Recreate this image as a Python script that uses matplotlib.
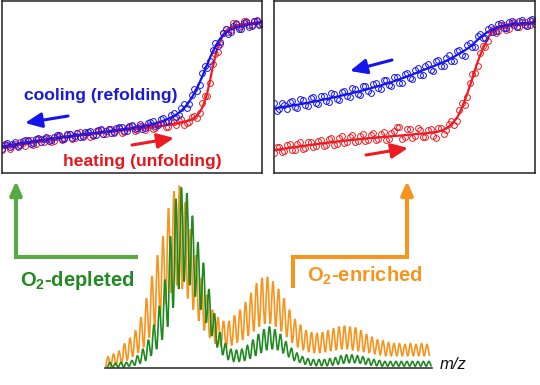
import numpy as np
import matplotlib
matplotlib.use('Agg')
import matplotlib.pyplot as plt
from matplotlib.path import Path
from matplotlib.patches import PathPatch

plt.rcParams['font.family'] = ['Liberation Sans', 'DejaVu Sans']
plt.rcParams['mathtext.fontset'] = 'custom'
plt.rcParams['mathtext.rm'] = 'Liberation Sans'
plt.rcParams['mathtext.bf'] = 'Liberation Sans:bold'
plt.rcParams['mathtext.it'] = 'Liberation Sans:italic'

# ---------------- data: melting curves (normalized signal, % of panel) -------------
temps = [0, 2, 4, 6, 8, 10, 12, 14, 16, 18, 20, 22, 24, 26, 28, 30, 32, 34, 36, 38,
         40, 42, 44, 46, 48, 50, 52, 54, 56, 58, 60, 62, 64, 66, 68, 70, 72, 74, 76,
         78, 80, 82, 84, 86, 88, 90, 92, 94, 96, 98, 100]
temps2 = [1, 3, 5, 7, 9, 11, 13, 15, 17, 19, 21, 23, 25, 27, 29, 31, 33, 35, 37, 39,
          41, 43, 45, 47, 49, 51, 53, 55, 57, 59, 61, 63, 65, 67, 69, 71, 73, 75, 77,
          79, 81, 83, 85, 87, 89, 91, 93, 95, 97, 99]

# left panel (O2-depleted)
heat_L = [13.2, 16.4, 15.8, 14.9, 17.6, 18.5, 16.4, 19.8, 18.1, 20.6, 18.4, 21.5, 20.6,
          22.4, 20.3, 23.6, 22.9, 21.1, 24.2, 25.0, 22.4, 25.6, 24.9, 23.3, 26.4, 27.1,
          24.8, 27.6, 26.9, 25.8, 28.4, 29.0, 27.0, 29.9, 30.5, 28.0, 29.4, 33.0, 35.0,
          44.5, 52.5, 69.0, 74.8, 83.5, 83.0, 87.5, 85.2, 88.3, 86.1, 88.9, 87.0]
heat_L2 = [16.0, 13.9, 16.8, 17.9, 15.6, 18.9, 16.8, 19.6, 20.4, 18.2, 21.1, 19.2, 22.3,
           20.0, 23.0, 21.0, 24.1, 21.6, 24.5, 22.6, 25.4, 23.1, 26.0, 23.8, 26.9, 24.6,
           27.5, 25.2, 28.1, 25.9, 29.0, 26.6, 29.6, 27.8, 31.5, 28.9, 32.4, 31.8, 40.5,
           45.0, 63.5, 70.5, 81.5, 82.2, 87.0, 84.6, 88.1, 86.0, 88.6, 86.5]
cool_L = [14.0, 17.2, 16.8, 15.9, 18.4, 19.3, 17.4, 20.1, 19.6, 18.5, 21.2, 22.0, 19.8,
          22.9, 21.6, 20.9, 23.8, 24.6, 22.0, 25.3, 24.6, 23.2, 26.0, 27.0, 24.5, 27.8,
          26.2, 25.4, 28.8, 30.1, 28.0, 32.0, 30.3, 34.8, 33.6, 40.0, 40.0, 49.0, 51.0,
          62.0, 65.0, 75.5, 76.0, 83.5, 81.8, 86.5, 84.0, 87.8, 85.5, 88.6, 86.9]
cool_L2 = [17.0, 15.1, 17.9, 16.0, 18.9, 17.0, 19.8, 18.1, 20.9, 19.0, 21.9, 19.8, 22.6,
           20.5, 23.4, 21.5, 24.1, 22.0, 24.9, 22.8, 25.7, 23.6, 26.5, 24.4, 27.3, 25.3,
           28.4, 26.4, 29.5, 27.6, 31.2, 29.5, 33.8, 32.6, 37.9, 38.0, 45.5, 47.5, 58.0,
           61.0, 71.5, 74.0, 81.5, 80.8, 85.5, 83.6, 87.4, 85.0, 88.4, 86.3]
heat_fit_L_T = [0, 10, 20, 30, 40, 50, 60, 65, 70, 73, 75, 77, 79, 81, 83, 85, 87, 90, 95, 100]
heat_fit_L = [14.5, 17.3, 19.8, 22, 23.8, 25.5, 27.2, 28.3, 29.8, 31.3, 33.5, 38, 47, 61,
              73, 80, 83.8, 85.8, 87, 88]
cool_fit_L_T = [0, 10, 20, 30, 40, 50, 55, 60, 65, 68, 71, 74, 77, 80, 83, 86, 90, 95, 100]
cool_fit_L = [15.5, 18, 20.3, 22.3, 24.2, 26.2, 27.5, 29.3, 32.3, 35, 39.5, 46.5, 56, 67,
              76, 81.5, 84.8, 86.5, 87.8]

# right panel (O2-enriched)
heat_R = [11.5, 15.4, 12.8, 16.8, 13.6, 17.9, 14.8, 18.2, 15.5, 19.4, 16.3, 20.2, 17.0,
          21.6, 17.8, 21.9, 18.6, 22.8, 19.0, 23.0, 19.6, 23.9, 20.0, 24.6, 26.5, 20.8,
          25.4, 21.4, 24.8, 21.0, 25.6, 20.5, 26.3, 24.8, 30.2, 30.5, 40.5, 44.0, 57.5,
          62.5, 74.0, 77.0, 84.0, 82.6, 86.3, 84.0, 87.6, 85.0, 88.0, 85.9, 88.3]
heat_R2 = [15.0, 12.2, 16.0, 13.1, 17.0, 14.0, 17.8, 14.9, 18.6, 15.6, 19.5, 16.4, 20.3,
           17.2, 20.9, 18.0, 21.5, 18.4, 22.1, 18.9, 22.8, 19.4, 23.4, 27.0, 19.9, 25.8,
           20.6, 26.0, 21.2, 25.1, 21.5, 25.9, 22.5, 28.4, 28.0, 36.8, 39.5, 52.5, 58.0,
           70.0, 73.0, 82.2, 81.5, 86.0, 83.4, 87.5, 84.6, 88.0, 85.2, 88.4]
cool_R = [40.5, 37.0, 39.8, 41.5, 38.2, 42.8, 39.5, 43.5, 40.9, 44.6, 42.0, 46.5, 43.2,
          47.0, 44.5, 49.2, 46.0, 50.8, 47.5, 52.0, 49.3, 53.9, 51.0, 55.8, 52.6, 57.4,
          55.0, 59.6, 57.2, 62.4, 60.0, 64.9, 62.0, 67.0, 65.4, 70.8, 68.5, 74.5, 73.0,
          79.5, 78.4, 84.0, 82.1, 86.8, 84.5, 87.9, 85.8, 88.6, 86.0, 88.8, 86.7]
cool_R2 = [36.2, 40.6, 37.3, 41.9, 38.0, 42.5, 39.2, 44.0, 40.4, 45.0, 41.3, 46.2, 42.6,
           47.8, 43.9, 48.9, 45.3, 50.6, 46.8, 52.3, 48.6, 54.0, 50.4, 55.9, 52.5, 58.3,
           54.8, 60.9, 57.0, 63.2, 59.5, 65.8, 62.0, 68.4, 64.9, 71.5, 68.0, 75.4, 73.2,
           80.9, 78.7, 84.9, 82.4, 87.3, 84.2, 88.4, 85.1, 89.0, 85.5, 89.3]
heat_fit_R_T = [0, 10, 20, 30, 40, 50, 55, 60, 64, 67, 70, 72, 74, 76, 78, 80, 82, 84, 87, 92, 100]
heat_fit_R = [13.3, 15.5, 17.5, 19.3, 20.7, 22, 22.7, 23.4, 24.5, 27, 32, 38, 46, 55, 64.5,
              72, 78.5, 82.5, 84.5, 86, 87]
cool_fit_R_T = [0, 10, 20, 30, 40, 50, 55, 60, 65, 70, 75, 80, 85, 90, 95, 100]
cool_fit_R = [37.5, 40, 43, 46.5, 50.5, 55.5, 58.5, 61.5, 64.5, 68.5, 73.3, 80, 84.5, 86.3,
              87, 87.5]

# ---------------- data: mass spectrum (relative intensity) -------------------------
enr_peaks = [6, 7.5, 9, 13, 16, 20, 27, 37, 49, 60, 70, 85, 94, 97, 88, 74, 60, 48, 39, 31,
             27, 25, 25, 28, 31, 35, 40, 45, 48, 48.5, 46, 42, 37, 31, 26, 23, 20, 19, 18.5,
             19, 20, 21, 22, 22.5, 22, 21.5, 20, 18, 16.5, 15, 14.5, 13.5, 13, 13, 12.5, 13,
             12.5, 13, 12.5]
enr_troughs = [0.5, 1, 1.5, 2.5, 4, 6, 8, 11, 16, 22, 28, 34, 40, 44, 42, 37, 31, 25, 20, 16,
               13, 11.5, 11, 12, 13.5, 15, 17, 19.5, 22, 23.5, 23.5, 22, 19.5, 16.5, 13.5,
               11, 9.5, 8.5, 8, 8, 8.5, 9, 9.5, 10, 10, 9.5, 9, 8.5, 8, 7.5, 7, 6.5, 6.5,
               6.5, 6.5, 6.5, 6.5, 6.5, 6.5, 6.5]
dep_peaks = [3, 2.5, 3, 3, 4, 6.5, 10, 15, 23, 33, 47, 70, 90, 96, 93, 81, 67, 56, 42, 29,
             19, 13, 10, 9.5, 10, 12, 15, 18, 20.5, 22, 20.5, 18, 14, 10.5, 8, 6, 5, 4.5,
             4.5, 4.5, 5, 5.5, 6.5, 7, 7, 6.5, 6, 5, 4.5, 4, 3.5, 3.5, 3.5, 3.5, 3.5, 3.5,
             3.5, 3.5, 3.5]
dep_troughs = [0.5, 0.5, 0.5, 0.5, 1, 1.5, 2.5, 4, 6.5, 10, 15, 22, 32, 42, 46, 44, 38, 31,
               24, 17, 11, 7, 4.5, 3.5, 3.5, 4, 5, 6.5, 8, 9.5, 10, 9.5, 8, 6, 4, 3, 2, 1.5,
               1.2, 1.2, 1.2, 1.5, 2, 2.5, 2.8, 2.8, 2.5, 2, 1.5, 1.2, 1, 1, 1, 1, 1, 1, 1,
               1, 1, 1]
dep_shift = 0.35  # green ladder offset (in peak spacings)

# ---------------- colours ----------------
BLUE = '#1414ee'
RED = '#ee1c22'
ORANGE = '#f7941d'
GREEN_LINE = '#1f8a1f'
GREEN_ARROW = '#58ab42'
GREEN_TEXT = '#238a23'

W, H = 540, 385
fig = plt.figure(figsize=(W / 100, H / 100), dpi=100)


def px_axes(x0, y0, x1, y1, **kw):
    return fig.add_axes([x0 / W, 1 - y1 / H, (x1 - x0) / W, (y1 - y0) / H], **kw)


def smooth_catmull(xs, ys):
    pts = list(zip(xs, ys))
    verts = [pts[0]]
    codes = [Path.MOVETO]
    n = len(pts)
    for i in range(n - 1):
        p0 = np.array(pts[max(i - 1, 0)])
        p1 = np.array(pts[i])
        p2 = np.array(pts[i + 1])
        p3 = np.array(pts[min(i + 2, n - 1)])
        c1 = p1 + (p2 - p0) / 6.0
        c2 = p2 - (p3 - p1) / 6.0
        verts += [tuple(c1), tuple(c2), tuple(p2)]
        codes += [Path.CURVE4] * 3
    return Path(verts, codes)


def wave_path(xs, ys, k=0.36):
    verts = [(xs[0], ys[0])]
    codes = [Path.MOVETO]
    for i in range(1, len(xs)):
        dx = xs[i] - xs[i - 1]
        verts += [(xs[i - 1] + k * dx, ys[i - 1]), (xs[i] - k * dx, ys[i]), (xs[i], ys[i])]
        codes += [Path.CURVE4] * 3
    return Path(verts, codes)


def melt_panel(ax, heat, heat2, cool, cool2, hT, hfit, cT, cfit):
    ax.set_xlim(0, 100)
    ax.set_ylim(0, 100)
    ax.set_xticks([])
    ax.set_yticks([])
    for s in ax.spines.values():
        s.set_linewidth(1.1)
        s.set_color('#222222')
    mk = dict(ls='none', marker='o', ms=4.2, mfc='none', mew=0.7)
    ax.plot(temps, heat, mec=RED, **mk)
    ax.plot(temps2, heat2, mec=RED, **mk)
    ax.plot(temps, cool, mec=BLUE, **mk)
    ax.plot(temps2, cool2, mec=BLUE, **mk)
    ax.add_patch(PathPatch(smooth_catmull(hT, hfit), fill=False, ec=RED, lw=1.6))
    ax.add_patch(PathPatch(smooth_catmull(cT, cfit), fill=False, ec=BLUE, lw=1.6))


axL = px_axes(2, 1, 262, 173)
melt_panel(axL, heat_L, heat_L2, cool_L, cool_L2,
           heat_fit_L_T, heat_fit_L, cool_fit_L_T, cool_fit_L)
axR = px_axes(274, 1, 535, 173)
melt_panel(axR, heat_R, heat_R2, cool_R, cool_R2,
           heat_fit_R_T, heat_fit_R, cool_fit_R_T, cool_fit_R)

# ---------------- spectrum ----------------
axS = px_axes(105, 180, 432, 368)
spacing = 5.5
axS.set_xlim((105 - 108) / spacing, (432 - 108) / spacing)
axS.set_ylim(0, 100)
axS.set_xticks([])
axS.set_yticks([])
for side in ['top', 'left', 'right']:
    axS.spines[side].set_visible(False)
axS.spines['bottom'].set_linewidth(1.2)
axS.spines['bottom'].set_color('#333333')
axS.patch.set_visible(False)


def ladder(peaks, troughs, shift):
    xs, ys = [], []
    for j in range(len(troughs)):
        xs.append(j - 0.5 + shift)
        ys.append(troughs[j])
        if j < len(peaks):
            xs.append(j + shift)
            ys.append(peaks[j])
    return xs, ys


ex, ey = ladder(enr_peaks, enr_troughs, 0.0)
dx_, dy_ = ladder(dep_peaks, dep_troughs, dep_shift)
axS.add_patch(PathPatch(wave_path(ex, ey), fill=False, ec=ORANGE, lw=1.2, clip_on=False))
axS.add_patch(PathPatch(wave_path(dx_, dy_), fill=False, ec=GREEN_LINE, lw=1.2, clip_on=False))

# ---------------- overlay: arrows and labels ----------------
axO = fig.add_axes([0, 0, 1, 1], zorder=10)
axO.set_xlim(0, W)
axO.set_ylim(H, 0)
axO.axis('off')
axO.patch.set_visible(False)


def arrow(tail, tip, color, lw, hl, hw):
    axO.annotate('', xy=tip, xytext=tail,
                 arrowprops=dict(arrowstyle=f'-|>,head_length={hl},head_width={hw}',
                                 color=color, lw=lw, shrinkA=0, shrinkB=0,
                                 mutation_scale=10))


arrow((68, 116), (25, 123), BLUE, 2.2, 1.0, 0.45)
arrow((132, 145), (174, 138), RED, 2.2, 1.0, 0.45)
arrow((392, 60), (350, 71), BLUE, 2.2, 1.0, 0.45)
arrow((366, 155), (408, 148), RED, 2.2, 1.0, 0.45)

axO.text(101, 100, 'cooling (refolding)', color='#1a1ad6', fontsize=12.6,
         fontweight='bold', ha='center', va='baseline')
axO.text(142, 166, 'heating (unfolding)', color='#e8151b', fontsize=12.6,
         fontweight='bold', ha='center', va='baseline')

# L-shaped arrows
axO.plot([138, 16, 16], [257, 257, 200], color=GREEN_ARROW, lw=2.9,
         solid_joinstyle='miter', solid_capstyle='butt')
arrow((16, 205), (16, 181), GREEN_ARROW, 2.9, 0.8, 0.35)
axO.plot([293, 293, 407, 407], [288, 257, 257, 200], color=ORANGE, lw=2.9,
         solid_joinstyle='miter', solid_capstyle='butt')
arrow((407, 205), (407, 181), ORANGE, 2.9, 0.8, 0.35)

axO.text(77, 286, r'O$_\mathbf{2}$-depleted', color=GREEN_TEXT, fontsize=14.5,
         fontweight='bold', ha='center', va='baseline')
axO.text(365, 282, r'O$_\mathbf{2}$-enriched', color=ORANGE, fontsize=14.5,
         fontweight='bold', ha='center', va='baseline')
axO.text(440, 369, 'm/z', color='#111111', fontsize=12, style='italic',
         ha='left', va='baseline')

fig.savefig('out.png', dpi=100)
